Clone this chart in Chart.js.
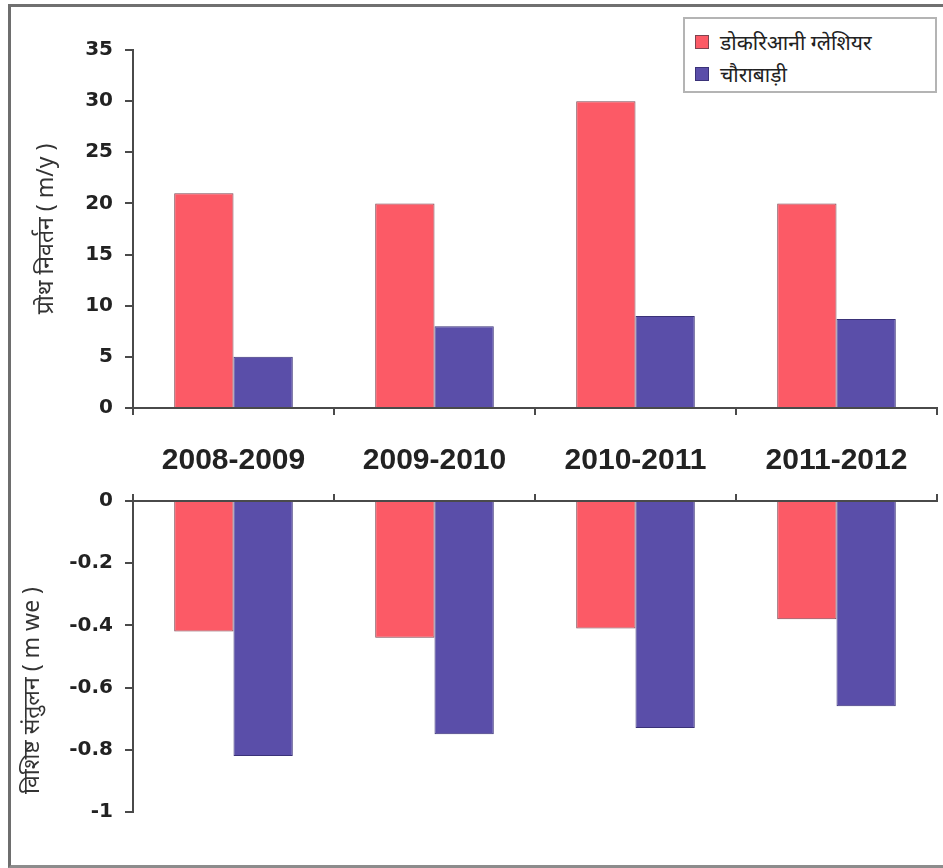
<!DOCTYPE html>
<html>
<head>
<meta charset="utf-8">
<script src="https://cdn.jsdelivr.net/npm/chart.js@4.4.1/dist/chart.umd.min.js"></script>
<style>
html,body{margin:0;padding:0;background:#fff;}
#wrap{position:relative;width:943px;height:868px;overflow:hidden;background:#fff;}
#frame{position:absolute;left:8px;top:4px;width:960px;height:858px;border-left:3px solid #6e6e6e;border-top:3px solid #707070;border-bottom:3px solid #8c8c8c;}
#c1{position:absolute;left:0;top:0;}
#c2{position:absolute;left:0;top:477px;}
#legend{position:absolute;left:683px;top:17px;width:254px;height:76px;border:2px solid #b4b4b4;box-sizing:border-box;background:#fff;
  font-family:'Noto Sans','Noto Sans Devanagari','Lohit Devanagari',sans-serif;font-size:21px;color:#222;}
.item{position:absolute;left:10px;height:26px;display:flex;align-items:center;}
.sw{width:14px;height:14px;margin-right:11px;box-sizing:border-box;}
</style>
</head>
<body>
<div id="wrap">
  <div id="frame"></div>
  <canvas id="c1" width="943" height="485"></canvas>
  <canvas id="c2" width="943" height="391"></canvas>
  <div id="legend"></div>
</div>
<script>
// ---- data ----
const categories = ['2008-2009', '2009-2010', '2010-2011', '2011-2012'];
const seriesNames = ['डोकरिआनी ग्लेशियर', 'चौराबाड़ी'];
const retreatDokriani = [21, 20, 30, 20];
const retreatChorabari = [5, 8, 9, 8.7];
const balanceDokriani = [-0.42, -0.44, -0.41, -0.38];
const balanceChorabari = [-0.82, -0.75, -0.73, -0.66];
const retreatTicks = [0, 5, 10, 15, 20, 25, 30, 35];
const balanceTicks = [-1, -0.8, -0.6, -0.4, -0.2, 0];
const balanceTickLabels = ['-1', '-0.8', '-0.6', '-0.4', '-0.2', '0'];
const topTitle = 'प्रोथ निवर्तन ( m/y )';
const bottomTitle = '\u00A0\u00A0\u00A0विशिष्ट संतुलन ( m we )';

// ---- styles ----
const seriesColors = ['#fc5a66', '#5a4ea9'];
const seriesBorders = ['#7e4450', '#3a3278'];
const axisColor = '#4a4a4a';
const devFont = "'Noto Sans','Noto Sans Devanagari','Lohit Devanagari','FreeSans',sans-serif";
const tickFont = {family: "'DejaVu Sans','Liberation Sans',sans-serif", size: 20, weight: 'bold'};
const catFont = {family: "'Liberation Sans',Arial,sans-serif", size: 30, weight: 'bold'};

function ds(label, data, i) {
  return {
    label: label, data: data,
    backgroundColor: seriesColors[i], borderColor: seriesBorders[i], borderWidth: 1,
    categoryPercentage: 0.59, barPercentage: 1.0
  };
}

function yAxis(min, max, ticksArr, labelsArr, title, titlePad, align) {
  return {
    min: min, max: max,
    afterBuildTicks(s) { s.ticks = ticksArr.map(v => ({value: v})); },
    afterFit(s) { s.width = 133; },
    grid: {drawOnChartArea: false, drawTicks: true, tickLength: 8, color: axisColor, lineWidth: 2},
    border: {display: true, color: axisColor, width: 2},
    ticks: {
      font: tickFont, color: '#222', padding: 12,
      callback(v) {
        if (!labelsArr) return String(v);
        const idx = ticksArr.findIndex(t => Math.abs(t - v) < 1e-9);
        return idx >= 0 ? labelsArr[idx] : '';
      }
    },
    title: {display: true, text: title, align: align, color: '#333', font: {family: devFont, size: 23}, padding: {top: titlePad, bottom: 0}}
  };
}

new Chart(document.getElementById('c1'), {
  type: 'bar',
  data: {
    labels: categories,
    datasets: [ds(seriesNames[0], retreatDokriani, 0), ds(seriesNames[1], retreatChorabari, 1)]
  },
  options: {
    responsive: false, animation: false,
    layout: {padding: {left: 0, right: 6, top: 50, bottom: 0}},
    plugins: {legend: {display: false}, tooltip: {enabled: false}},
    scales: {
      x: {
        position: 'bottom', offset: true,
        afterFit(s) { s.height = 77; },
        grid: {drawOnChartArea: false, drawTicks: true, tickLength: 7, color: axisColor, lineWidth: 2, offset: true},
        border: {display: true, color: axisColor, width: 2},
        ticks: {font: catFont, color: '#222', padding: 28, maxRotation: 0, autoSkip: false}
      },
      y: yAxis(0, 35, retreatTicks, null, topTitle, 33, 'center')
    }
  }
});

new Chart(document.getElementById('c2'), {
  type: 'bar',
  data: {
    labels: categories,
    datasets: [ds(seriesNames[0], balanceDokriani, 0), ds(seriesNames[1], balanceChorabari, 1)]
  },
  options: {
    responsive: false, animation: false,
    layout: {padding: {left: 0, right: 6, top: 0, bottom: 56}},
    plugins: {legend: {display: false}, tooltip: {enabled: false}},
    scales: {
      x: {
        position: 'top', offset: true,
        afterFit(s) { s.height = 14; },
        grid: {drawOnChartArea: false, drawTicks: true, tickLength: 7, color: axisColor, lineWidth: 2, offset: true},
        border: {display: true, color: axisColor, width: 2},
        ticks: {display: false}
      },
      y: yAxis(-1, 0, balanceTicks, balanceTickLabels, bottomTitle, 19, 'start')
    }
  }
});

// HTML legend built from the series arrays
const lg = document.getElementById('legend');
seriesNames.forEach((name, i) => {
  const it = document.createElement('div');
  it.className = 'item';
  it.style.top = (10 + i * 32) + 'px';
  const sw = document.createElement('span');
  sw.className = 'sw';
  sw.style.background = seriesColors[i];
  sw.style.border = '1px solid ' + seriesBorders[i];
  const tx = document.createElement('span');
  tx.textContent = name;
  it.appendChild(sw); it.appendChild(tx);
  lg.appendChild(it);
});
</script>
</body>
</html>
